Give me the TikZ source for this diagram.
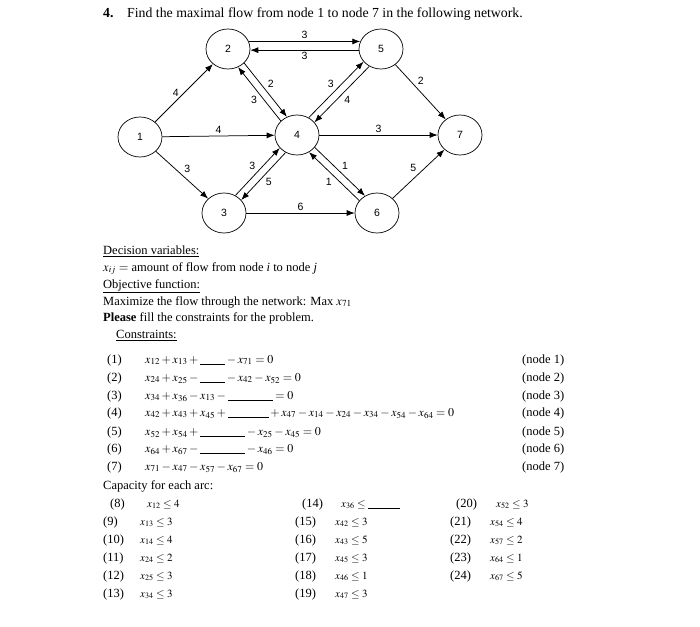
\documentclass[tikz,border=0pt]{standalone}
\usepackage{mathptmx}
\usepackage{fontspec}
\setmainfont{Liberation Serif}
\setsansfont{Liberation Sans}
\usetikzlibrary{shapes.geometric,arrows.meta}

\newcommand\fillblank[1]{\rule[-1.5pt]{#1pt}{0.6pt}}
\newcommand\bodysize{\fontsize{12.5}{15}\selectfont}
\newcommand\eqsize{\fontsize{12}{14}\selectfont}
\newcommand\capsize{\fontsize{11}{13}\selectfont}

\tikzset{
  vert/.style={draw, ellipse, minimum width=44pt, minimum height=40pt, inner sep=0pt,
    line width=0.7pt, font=\sffamily\fontsize{10.5}{12}\selectfont},
  flowarc/.style={-{Latex[length=8pt,width=6pt]}, line width=0.75pt},
  lbl/.style={inner sep=2pt, font=\sffamily\fontsize{10.5}{12}\selectfont},
  txt/.style={anchor=base west, inner sep=0pt, font=\bodysize},
  eqn/.style={anchor=base west, inner sep=0pt, font=\eqsize},
  capeqn/.style={anchor=base west, inner sep=0pt, font=\capsize},
}

\begin{document}
\begin{tikzpicture}[x=1pt,y=-1pt]
  \path[fill=white] (0,0) rectangle (700,626);
  \useasboundingbox (0,0) rectangle (700,626);

  % title
  \node[txt, font=\fontsize{13.8}{16}\selectfont] (num) at (103,18) {\textbf{4.}};
  \node[txt, font=\fontsize{13.8}{16}\selectfont] (title) at (127,18) {Find the maximal flow from node 1 to node 7 in the following network.};

  % network
  \node[vert] (n1) at (140,137) {1};
  \node[vert] (n2) at (228,49) {2};
  \node[vert] (n3) at (224,213) {3};
  \node[vert] (n4) at (297,135) {4};
  \node[vert] (n5) at (381,49) {5};
  \node[vert] (n6) at (377,213) {6};
  \node[vert] (n7) at (460,135) {7};

  \draw[flowarc] (n1) -- node[lbl, left=3pt] {4} (n2);
  \draw[flowarc] (n2.20) -- node[lbl, above] {3} (n5.160);
  \draw[flowarc] (n5.183) -- node[lbl, below] {3} (n2.-3);
  \draw[flowarc] (n2.-41) -- node[lbl, above right] {2} (n4.119);
  \draw[flowarc] (n4.139) -- node[lbl, below left] {3} (n2.-61);
  \draw[flowarc] (n4.56) -- node[lbl, above left] {3} (n5.216);
  \draw[flowarc] (n5.236) -- node[lbl, below right] {4} (n4.36);
  \draw[flowarc] (n5) -- node[lbl, pos=0.4, above right] {2} (n7);
  \draw[flowarc] (n1) -- node[lbl, above] {4} (n4);
  \draw[flowarc] (n4) -- node[lbl, above] {3} (n7);
  \draw[flowarc] (n1) -- node[lbl, above right] {3} (n3);
  \draw[flowarc] (n3.57) -- node[lbl, above left] {3} (n4.217);
  \draw[flowarc] (n4.237) -- node[lbl, below right] {5} (n3.37);
  \draw[flowarc] (n4.-35) -- node[lbl, above right] {1} (n6.125);
  \draw[flowarc] (n6.145) -- node[lbl, below left] {1} (n4.-55);
  \draw[flowarc] (n3) -- node[lbl, above] {6} (n6);
  \draw[flowarc] (n6) -- node[lbl, above left] {5} (n7);

  % model
  \node[txt] (dv) at (103,254) {\underline{Decision variables:}};
  \node[txt] (dvx) at (103,271) {$x_{ij}=$ amount of flow from node \textit{i} to node \textit{j}};
  \node[txt] (obj) at (103,288) {\underline{Objective function:}};
  \node[txt] (objx) at (103,305) {Maximize the flow through the network: Max $x_{71}$};
  \node[txt] (ask) at (103,321) {\textbf{Please} fill the constraints for the problem.};
  \node[txt] (cons) at (116,338) {\underline{Constraints:}};

  \foreach \k/\y/\eq in {
      1/363/{x_{12}+x_{13}+\fillblank{25}-x_{71}=0},
      2/381/{x_{24}+x_{25}-\fillblank{25}-x_{42}-x_{52}=0},
      3/399/{x_{34}+x_{36}-x_{13}-\fillblank{45}=0},
      4/416/{x_{42}+x_{43}+x_{45}+\fillblank{41}+x_{47}-x_{14}-x_{24}-x_{34}-x_{54}-x_{64}=0},
      5/435/{x_{52}+x_{54}+\fillblank{45}-x_{25}-x_{45}=0},
      6/452/{x_{64}+x_{67}-\fillblank{45}-x_{46}=0},
      7/470/{x_{71}-x_{47}-x_{57}-x_{67}=0}} {
    \node[txt] (cn\k) at (107,\y) {(\k)};
    \node[eqn] (ce\k) at (145,\y) {$\eq$};
    \node[txt] (cr\k) at (522,\y) {(node \k)};
  }

  \node[txt] (capa) at (103,489) {Capacity for each arc:};

  \foreach \n/\lx/\ex/\y/\eq in {
      8/110/147/507/{x_{12}\le 4}, 9/103/140/525/{x_{13}\le 3},
      10/103/140/543/{x_{14}\le 4}, 11/103/140/561/{x_{24}\le 2},
      12/103/140/579/{x_{25}\le 3}, 13/103/140/597/{x_{34}\le 3},
      14/302/341/507/{x_{36}\le \fillblank{32}}, 15/295/335/525/{x_{42}\le 3},
      16/295/335/543/{x_{43}\le 5}, 17/295/335/561/{x_{45}\le 3},
      18/295/335/579/{x_{46}\le 1}, 19/295/335/597/{x_{47}\le 3},
      20/456/496/507/{x_{52}\le 3}, 21/450/490/525/{x_{54}\le 4},
      22/450/490/543/{x_{57}\le 2}, 23/450/490/561/{x_{64}\le 1},
      24/450/490/579/{x_{67}\le 5}} {
    \node[txt] (kn\n) at (\lx,\y) {(\n)};
    \node[capeqn] (ke\n) at (\ex,\y) {$\eq$};
  }
\end{tikzpicture}
\end{document}
